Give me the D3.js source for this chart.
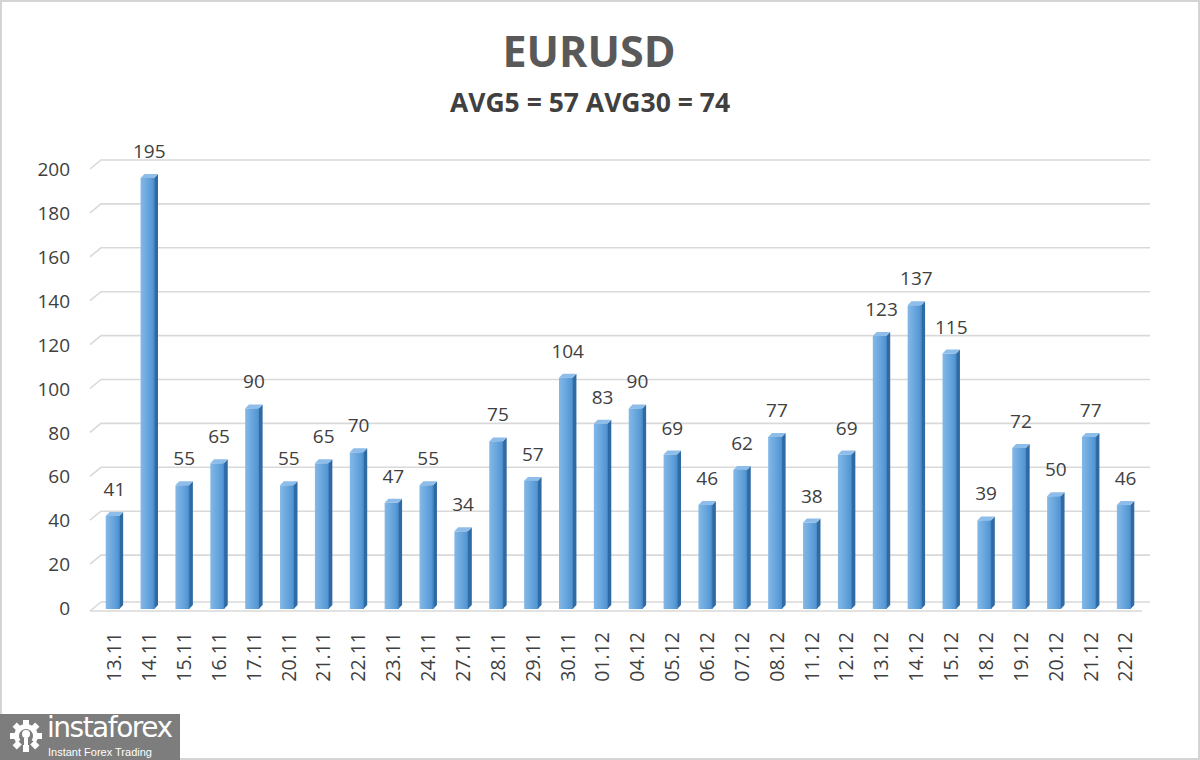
<!DOCTYPE html>
<html>
<head>
<meta charset="utf-8">
<script src="https://cdn.jsdelivr.net/npm/d3@7"></script>
<style>
html,body{margin:0;padding:0;background:#fff;}
svg{display:block;}
</style>
</head>
<body>
<svg id="chart" width="1200" height="760"></svg>
<script>
const categories = ["13.11","14.11","15.11","16.11","17.11","20.11","21.11","22.11","23.11","24.11","27.11","28.11","29.11","30.11","01.12","04.12","05.12","06.12","07.12","08.12","11.12","12.12","13.12","14.12","15.12","18.12","19.12","20.12","21.12","22.12"];
const values = [41,195,55,65,90,55,65,70,47,55,34,75,57,104,83,90,69,46,62,77,38,69,123,137,115,39,72,50,77,46];
const yTicks = [0,20,40,60,80,100,120,140,160,180,200];
const titleText = "EURUSD";
const subtitleText = "AVG5 = 57 AVG30 = 74";

const svg = d3.select("#chart");
const W = 1200, H = 760;

// border
svg.append("rect").attr("x",1).attr("y",1).attr("width",W-2).attr("height",H-2)
  .attr("fill","#fff").attr("stroke","#d4d4d4").attr("stroke-width",2);

const defs = svg.append("defs");
const g1 = defs.append("linearGradient").attr("id","front").attr("x1","0").attr("x2","1").attr("y1","0").attr("y2","0");
g1.append("stop").attr("offset","0").attr("stop-color","#84b8e6");
g1.append("stop").attr("offset","0.5").attr("stop-color","#6aa7de");
g1.append("stop").attr("offset","1").attr("stop-color","#4f93d2");

const y = d3.scaleLinear().domain([0,200]).range([608,169]);
const x = d3.scaleBand().domain(categories).range([97,1143]).paddingInner(0.5).paddingOuter(0.25);

const depthX = 11, depthY = 9;

// gridlines (back wall) with diagonal stub
const grid = svg.append("g");
yTicks.forEach(t => {
  if (t === 0) return;
  grid.append("path")
    .attr("d", `M90,${y(t)} L${90+depthX},${y(t)-depthY} L1150,${y(t)-depthY}`)
    .attr("fill","none").attr("stroke","#d9d9d9").attr("stroke-width",1.6);
});
// floor
grid.append("path")
  .attr("d", `M90,${y(0)+3} L${90+depthX},${y(0)-depthY+3} L1150,${y(0)-depthY+3}`)
  .attr("fill","none").attr("stroke","#d9d9d9").attr("stroke-width",1.6);
grid.append("line").attr("x1",90).attr("x2",1142).attr("y1",y(0)+3).attr("y2",y(0)+3)
  .attr("stroke","#d9d9d9").attr("stroke-width",1.6);

// y axis labels
const yAxis = d3.axisLeft(y).tickValues(yTicks).tickSize(0).tickPadding(0);
const ya = svg.append("g").attr("transform","translate(70,0)").call(yAxis);
ya.select(".domain").remove();
ya.selectAll("text").attr("font-family","'Open Sans', sans-serif").attr("font-size",19)
  .attr("fill","#404040").attr("dy","0.35em");

// bars
const fw = x.bandwidth()*0.78, sw = x.bandwidth()-fw, th = 4;
const off = -2;
const bars = svg.append("g").selectAll("g").data(values).join("g");
bars.each(function(v,i){
  const gx = x(categories[i]);
  const top = y(v) + off;
  const bot = y(0) + 1;
  const gg = d3.select(this);
  // side
  gg.append("path").attr("d",`M${gx+fw},${top} L${gx+fw+sw},${top-th} L${gx+fw+sw},${bot-th} L${gx+fw},${bot} Z`)
    .attr("fill","#2f6aa3");
  // top
  gg.append("path").attr("d",`M${gx},${top} L${gx+sw},${top-th} L${gx+fw+sw},${top-th} L${gx+fw},${top} Z`)
    .attr("fill","#8dbde8");
  // front
  gg.append("rect").attr("x",gx).attr("y",top).attr("width",fw).attr("height",bot-top)
    .attr("fill","url(#front)");
  gg.append("line").attr("x1",gx+fw).attr("x2",gx+fw).attr("y1",top).attr("y2",bot)
    .attr("stroke","#3b7cbc").attr("stroke-width",0.8);
});

// data labels
svg.append("g").selectAll("text").data(values).join("text")
  .attr("x",(v,i)=>x(categories[i])+x.bandwidth()/2)
  .attr("y",v=>y(v)-22)
  .attr("text-anchor","middle")
  .attr("font-family","'Open Sans', sans-serif").attr("font-size",19)
  .attr("fill","#404040")
  .text(v=>v);

// x axis labels
const xAxis = d3.axisBottom(x).tickSize(0).tickPadding(0);
const xa = svg.append("g").attr("transform","translate(0,632)").call(xAxis);
xa.select(".domain").remove();
xa.selectAll("text")
  .attr("font-family","'Open Sans', sans-serif").attr("font-size",19.5).attr("fill","#404040")
  .attr("text-anchor","end").attr("transform","rotate(-90)")
  .attr("x",0).attr("y",0).attr("dy","0.35em");

// titles
svg.append("text").attr("x",589).attr("y",67).attr("text-anchor","middle")
  .attr("font-family","'Open Sans', sans-serif").attr("font-weight","bold").attr("font-size",43)
  .attr("fill","#595959").text(titleText);
svg.append("text").attr("x",590).attr("y",112).attr("text-anchor","middle")
  .attr("font-family","'Open Sans', sans-serif").attr("font-weight","bold").attr("font-size",26.5)
  .attr("fill","#404040").text(subtitleText);

// logo
const logo = svg.append("g");
logo.append("rect").attr("x",0).attr("y",714).attr("width",180).attr("height",46).attr("fill","#7d7d7d");
const gear = logo.append("g").attr("transform","translate(26,736)");
const teeth = 8;
for (let k=0;k<teeth;k++){
  gear.append("rect").attr("x",-3).attr("y",-16).attr("width",6).attr("height",7)
    .attr("fill","#fff").attr("transform",`rotate(${k*360/teeth - 90})`);
}
gear.append("path").attr("d", d3.arc()({innerRadius:7,outerRadius:12,startAngle:-2.2,endAngle:2.2})).attr("fill","#fff");
gear.append("circle").attr("cx",0).attr("cy",-2).attr("r",4).attr("fill","#fff");
gear.append("rect").attr("x",-2).attr("y",2).attr("width",4).attr("height",14).attr("fill","#fff");
logo.append("text").attr("x",47).attr("y",737).attr("font-family","'DejaVu Sans', sans-serif")
  .attr("font-size",28).attr("fill","#fff").attr("textLength",126).text("instaforex");
logo.append("text").attr("x",48).attr("y",756).attr("font-family","'Liberation Sans', sans-serif")
  .attr("font-size",11).attr("fill","#fff").text("Instant Forex Trading");
</script>
</body>
</html>
